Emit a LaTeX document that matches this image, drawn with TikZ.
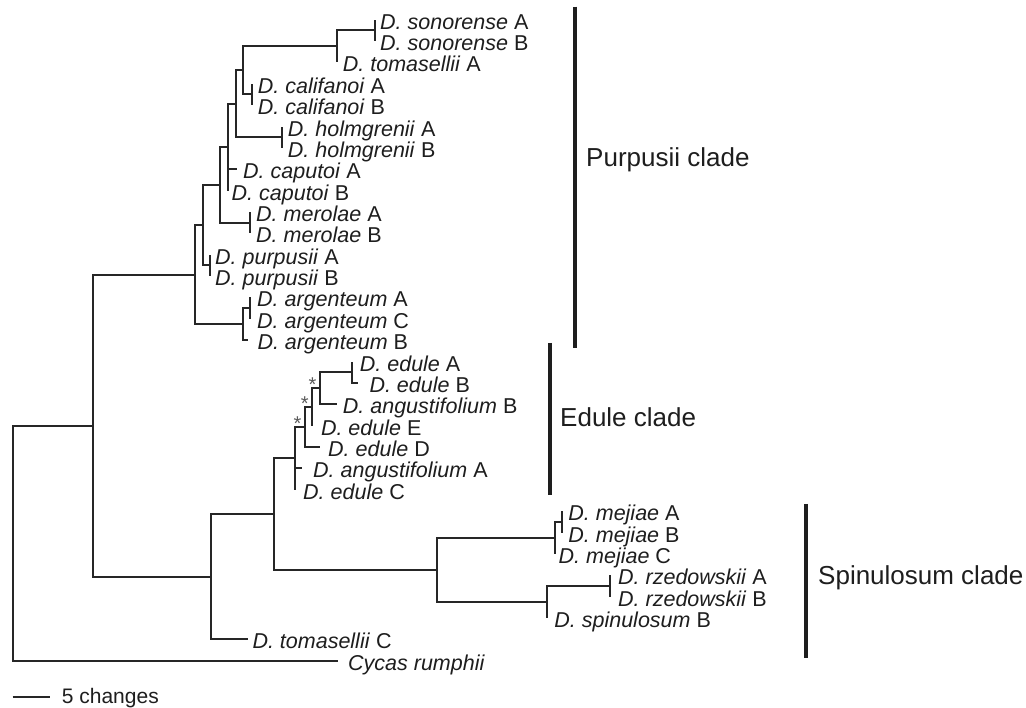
\documentclass[tikz,border=0pt]{standalone}
\usepackage{fontspec}
\setmainfont{Liberation Sans}
\definecolor{treegray}{HTML}{262626}
\definecolor{inkgray}{HTML}{1E1E1E}
\definecolor{stargray}{HTML}{5A5A5A}
% leaf label: name, tip coordinate, horizontal gap (pt), text
\newcommand{\leafat}[4]{\node[leaf] (#1) at ([shift={(#3pt,-9.5pt)}]#2) {#4};}
\begin{document}
\begin{tikzpicture}[x=1pt,y=-1pt,
  branch/.style={draw=treegray, line width=2pt},
  leaf/.style={anchor=base west, inner sep=0pt, font=\fontsize{21.5}{21.5}\selectfont, text=inkgray},
  cladebar/.style={draw=inkgray, line width=4.2pt},
  cladelabel/.style={anchor=base west, inner sep=0pt, font=\fontsize{26}{26}\selectfont, text=inkgray},
  support/.style={inner sep=0pt, font=\fontsize{20}{20}\selectfont, text=stargray},
  scaletext/.style={anchor=base west, inner sep=0pt, font=\fontsize{21}{21}\selectfont, text=inkgray}]
\fill[white] (0,0) rectangle (1026,708);
\useasboundingbox (0,0) rectangle (1026,708);

% ---- tips ----
\coordinate (tSonA) at (375,19.7);
\coordinate (tSonB) at (375,41.1);
\coordinate (tTomA) at (336.7,62.4);
\coordinate (tCalA) at (251.7,83.8);
\coordinate (tCalB) at (251.7,105.2);
\coordinate (tHolA) at (281.7,126.6);
\coordinate (tHolB) at (281.7,147.9);
\coordinate (tCapA) at (237,169.3);
\coordinate (tCapB) at (227.5,190.7);
\coordinate (tMerA) at (250,212.0);
\coordinate (tMerB) at (250,233.4);
\coordinate (tPurA) at (210,254.8);
\coordinate (tPurB) at (210,276.1);
\coordinate (tArgA) at (250,297.5);
\coordinate (tArgC) at (250,318.9);
\coordinate (tArgB) at (248.3,340.3);
\coordinate (tEduA) at (351.7,361.6);
\coordinate (tEduB) at (358.3,383.0);
\coordinate (tAngB) at (336.7,404.4);
\coordinate (tEduE) at (312.3,425.7);
\coordinate (tEduD) at (320,447.1);
\coordinate (tAngA) at (302,468.5);
\coordinate (tEduC) at (295,489.8);
\coordinate (tMejA) at (561.7,511.2);
\coordinate (tMejB) at (561.7,532.6);
\coordinate (tMejC) at (555,554.0);
\coordinate (tRzeA) at (610,575.3);
\coordinate (tRzeB) at (610,596.7);
\coordinate (tSpiB) at (546.7,618.1);
\coordinate (tTomC) at (248.3,639.4);
\coordinate (tCyc) at (338,660.8);

% ---- internal nodes ----
\coordinate (nSon) at (375,30.4);
\coordinate (nP6) at (336.7,46.4);
\coordinate (nCal) at (251.7,94.5);
\coordinate (nP5) at (243.3,70.45);
\coordinate (nHol) at (281.7,137.25);
\coordinate (nP4) at (235.7,103.85);
\coordinate (nP3) at (227.5,147.3);
\coordinate (nMer) at (250,222.7);
\coordinate (nP2) at (220,185);
\coordinate (nPur) at (210,265.45);
\coordinate (nP1) at (203.3,225.2);
\coordinate (nArgAC) at (250,308.2);
\coordinate (nArg) at (243.3,324.25);
\coordinate (nPurp) at (195,274.7);
\coordinate (nEAB) at (351.7,372.3);
\coordinate (nE4) at (320,388.35);
\coordinate (nE3) at (312.3,407);
\coordinate (nE2) at (305,427);
\coordinate (nE1) at (295,458.4);
\coordinate (nMejAB) at (561.7,521.9);
\coordinate (nMej) at (555,537.95);
\coordinate (nRz) at (610,586);
\coordinate (nRS) at (546.7,602);
\coordinate (nS1) at (437.3,570);
\coordinate (nN3) at (274,514.2);
\coordinate (nN2) at (210.7,576.8);
\coordinate (nN1) at (93.3,425.75);
\coordinate (nRoot) at (12.7,543.3);

% ---- branches ----
\foreach \p/\c in {nSon/tSonA, nSon/tSonB, nP6/nSon, nP6/tTomA,
    nCal/tCalA, nCal/tCalB, nP5/nP6, nP5/nCal,
    nHol/tHolA, nHol/tHolB, nP4/nP5, nP4/nHol,
    nP3/nP4, nP3/tCapA, nP3/tCapB,
    nMer/tMerA, nMer/tMerB, nP2/nP3, nP2/nMer,
    nPur/tPurA, nPur/tPurB, nP1/nP2, nP1/nPur,
    nArgAC/tArgA, nArgAC/tArgC, nArg/nArgAC, nArg/tArgB,
    nPurp/nP1, nPurp/nArg,
    nEAB/tEduA, nEAB/tEduB, nE4/nEAB, nE4/tAngB,
    nE3/nE4, nE3/tEduE, nE2/nE3, nE2/tEduD,
    nE1/nE2, nE1/tAngA, nE1/tEduC,
    nMejAB/tMejA, nMejAB/tMejB, nMej/nMejAB, nMej/tMejC,
    nRz/tRzeA, nRz/tRzeB, nRS/nRz, nRS/tSpiB,
    nS1/nMej, nS1/nRS, nN3/nE1, nN3/nS1,
    nN2/nN3, nN2/tTomC, nN1/nPurp, nN1/nN2,
    nRoot/nN1, nRoot/tCyc}
  \draw[branch] (\p) |- (\c);

% ---- leaf labels ----
\leafat{lSonA}{tSonA}{5}{\textit{D. sonorense} A}
\leafat{lSonB}{tSonB}{5}{\textit{D. sonorense} B}
\leafat{lTomA}{tTomA}{6}{\textit{D. tomasellii} A}
\leafat{lCalA}{tCalA}{6}{\textit{D. califanoi} A}
\leafat{lCalB}{tCalB}{6}{\textit{D. califanoi} B}
\leafat{lHolA}{tHolA}{6}{\textit{D. holmgrenii} A}
\leafat{lHolB}{tHolB}{6}{\textit{D. holmgrenii} B}
\leafat{lCapA}{tCapA}{6}{\textit{D. caputoi} A}
\leafat{lCapB}{tCapB}{4}{\textit{D. caputoi} B}
\leafat{lMerA}{tMerA}{6}{\textit{D. merolae} A}
\leafat{lMerB}{tMerB}{6}{\textit{D. merolae} B}
\leafat{lPurA}{tPurA}{5}{\textit{D. purpusii} A}
\leafat{lPurB}{tPurB}{5}{\textit{D. purpusii} B}
\leafat{lArgA}{tArgA}{7}{\textit{D. argenteum} A}
\leafat{lArgC}{tArgC}{7}{\textit{D. argenteum} C}
\leafat{lArgB}{tArgB}{9}{\textit{D. argenteum} B}
\leafat{lEduA}{tEduA}{8}{\textit{D. edule} A}
\leafat{lEduB}{tEduB}{11}{\textit{D. edule} B}
\leafat{lAngB}{tAngB}{6}{\textit{D. angustifolium} B}
\leafat{lEduE}{tEduE}{8.5}{\textit{D. edule} E}
\leafat{lEduD}{tEduD}{8}{\textit{D. edule} D}
\leafat{lAngA}{tAngA}{11}{\textit{D. angustifolium} A}
\leafat{lEduC}{tEduC}{8}{\textit{D. edule} C}
\leafat{lMejA}{tMejA}{6.5}{\textit{D. mejiae} A}
\leafat{lMejB}{tMejB}{6.5}{\textit{D. mejiae} B}
\leafat{lMejC}{tMejC}{3.5}{\textit{D. mejiae} C}
\leafat{lRzeA}{tRzeA}{8}{\textit{D. rzedowskii} A}
\leafat{lRzeB}{tRzeB}{8}{\textit{D. rzedowskii} B}
\leafat{lSpiB}{tSpiB}{7.5}{\textit{D. spinulosum} B}
\leafat{lTomC}{tTomC}{4}{\textit{D. tomasellii} C}
\leafat{lCyc}{tCyc}{10}{\textit{Cycas rumphii}}

% ---- support marks on the Edule backbone ----
\node[support] (sE4) at ([shift={(-7.5pt,3.7pt)}]nE4) {*};
\node[support] (sE3) at ([shift={(-7.5pt,3.7pt)}]nE3) {*};
\node[support] (sE2) at ([shift={(-7.5pt,3.7pt)}]nE2) {*};

% ---- clade bars and names ----
\coordinate (bPurTop) at (575,6.7);
\coordinate (bPurBot) at (575,348);
\coordinate (bEduTop) at (550,343);
\coordinate (bEduBot) at (550,495);
\coordinate (bSpiTop) at (806,504);
\coordinate (bSpiBot) at (806,658);
\draw[cladebar] (bPurTop) -- (bPurBot);
\draw[cladebar] (bEduTop) -- (bEduBot);
\draw[cladebar] (bSpiTop) -- (bSpiBot);
\node[cladelabel] (cPur) at (586,166.3) {Purpusii clade};
\node[cladelabel] (cEdu) at (560,426.3) {Edule clade};
\node[cladelabel] (cSpi) at (818,584.3) {Spinulosum clade};

% ---- scale bar ----
\coordinate (sbL) at (12.7,696.7);
\coordinate (sbR) at (50,696.7);
\draw[branch] (sbL) -- (sbR);
\node[scaletext] (sbT) at (61.7,703.5) {5 changes};
\end{tikzpicture}
\end{document}
